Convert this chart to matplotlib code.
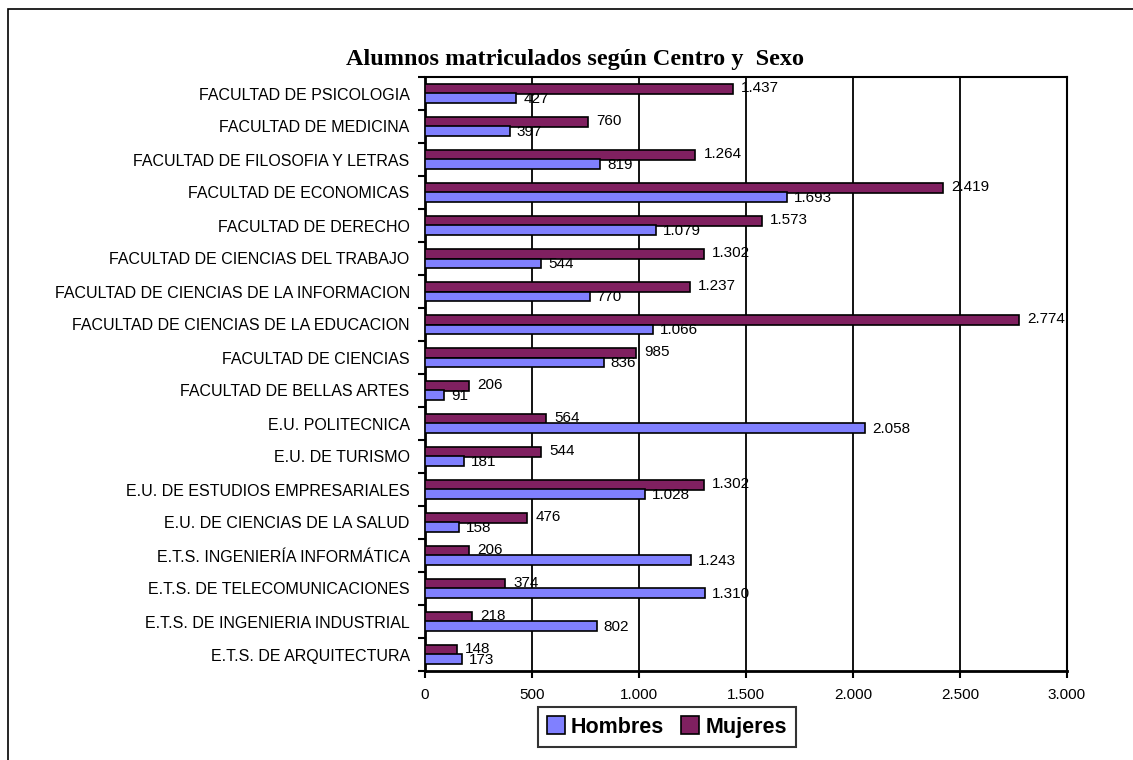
import matplotlib
matplotlib.use("Agg")
import matplotlib.pyplot as plt
from matplotlib.patches import Rectangle
from matplotlib.ticker import FuncFormatter
import numpy as np

# bottom to top, as drawn
centros = [
    "E.T.S. DE ARQUITECTURA",
    "E.T.S. DE INGENIERIA INDUSTRIAL",
    "E.T.S. DE TELECOMUNICACIONES",
    "E.T.S. INGENIERÍA INFORMÁTICA",
    "E.U. DE CIENCIAS DE LA SALUD",
    "E.U. DE ESTUDIOS EMPRESARIALES",
    "E.U. DE TURISMO",
    "E.U. POLITECNICA",
    "FACULTAD DE BELLAS ARTES",
    "FACULTAD DE CIENCIAS",
    "FACULTAD DE CIENCIAS DE LA EDUCACION",
    "FACULTAD DE CIENCIAS DE LA INFORMACION",
    "FACULTAD DE CIENCIAS DEL TRABAJO",
    "FACULTAD DE DERECHO",
    "FACULTAD DE ECONOMICAS",
    "FACULTAD DE FILOSOFIA Y LETRAS",
    "FACULTAD DE MEDICINA",
    "FACULTAD DE PSICOLOGIA",
]
hombres = [173, 802, 1310, 1243, 158, 1028, 181, 2058, 91, 836, 1066, 770, 544, 1079, 1693, 819, 397, 427]
mujeres = [148, 218, 374, 206, 476, 1302, 544, 564, 206, 985, 2774, 1237, 1302, 1573, 2419, 1264, 760, 1437]
xticks = [0, 500, 1000, 1500, 2000, 2500, 3000]

C_HOM = '#8080FF'
C_MUJ = '#802060'

plt.rcParams['font.family'] = ['Liberation Sans', 'DejaVu Sans']

W, H = 1133, 760
fig = plt.figure(figsize=(W / 100, H / 100), dpi=100)
fig.patch.set_facecolor('white')

# outer chart border (cut off at right and bottom like the reference)
fig.patches.append(Rectangle((8 / W, -0.1), 1.2, 1.1 - 9 / H, transform=fig.transFigure,
                             fill=False, edgecolor='black', linewidth=1.2))

ax = fig.add_axes([425 / W, 89 / H, 642 / W, 594 / H])

y = np.arange(len(centros))
h = 0.29
b_muj = ax.barh(y + h / 2, mujeres, height=h, color=C_MUJ, edgecolor='black', linewidth=1.2,
                label='Mujeres', zorder=3)
b_hom = ax.barh(y - h / 2, hombres, height=h, color=C_HOM, edgecolor='black', linewidth=1.2,
                label='Hombres', zorder=3)

def fmt(v):
    return f"{v:,}".replace(',', '.')

for yy, v in zip(y, mujeres):
    ax.annotate(fmt(v), (v, yy + h / 2), xytext=(6, 0.5), textcoords='offset points',
                va='center', ha='left', fontsize=11, zorder=4)
for yy, v in zip(y, hombres):
    ax.annotate(fmt(v), (v, yy - h / 2), xytext=(5, -0.5), textcoords='offset points',
                va='center', ha='left', fontsize=11, zorder=4)

ax.set_xlim(0, 3000)
ax.set_ylim(-0.5, len(centros) - 0.5)
ax.set_xticks(xticks)
ax.xaxis.set_major_formatter(FuncFormatter(lambda v, p: fmt(int(v))))
ax.set_yticks(y)
ax.set_yticklabels(centros)
ax.set_yticks(np.arange(len(centros) + 1) - 0.5, minor=True)
ax.tick_params(axis='y', which='major', length=0, pad=11, labelsize=11.5)
ax.tick_params(axis='y', which='minor', length=5, width=1.5, direction='out')
ax.tick_params(axis='x', length=5, width=1.5, direction='out', pad=7, labelsize=11)

ax.grid(axis='x', color='black', linewidth=1.3, zorder=0)
ax.set_axisbelow(True)
for s in ax.spines.values():
    s.set_color('black')
    s.set_linewidth(1.5)
ax.spines['left'].set_linewidth(2)
ax.spines['bottom'].set_linewidth(2)

fig.text(575 / W, 1 - 60 / H, "Alumnos matriculados según Centro y  Sexo", ha='center', va='center',
         fontsize=17.5, fontweight='bold', family=['Liberation Serif', 'DejaVu Serif'])

leg = fig.legend(handles=[b_hom, b_muj], labels=['Hombres', 'Mujeres'], loc='center',
                 bbox_to_anchor=(667 / W, 1 - 727 / H), ncol=2, frameon=True, fancybox=False,
                 edgecolor='black', handlelength=0.8, handleheight=0.9, handletextpad=0.3,
                 columnspacing=0.8, borderpad=0.45, prop={'weight': 'bold', 'size': 15.5})
leg.get_frame().set_linewidth(1.5)

fig.savefig('out.png', dpi=100)
